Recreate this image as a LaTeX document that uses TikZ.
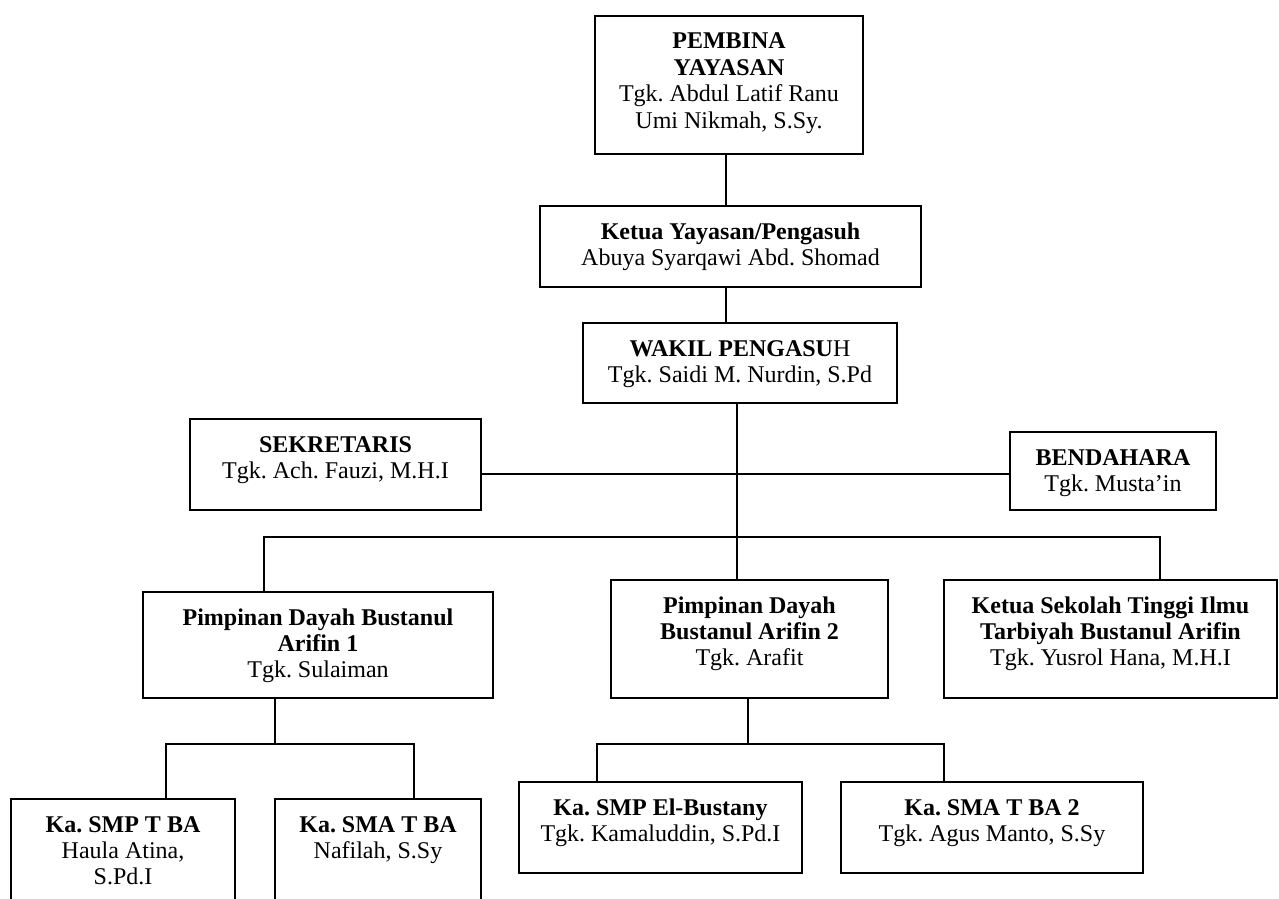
\documentclass[tikz,border=0pt]{standalone}
\usepackage{fontspec}
\setmainfont{Liberation Serif}
\frenchspacing
\newdimen\unitpx \unitpx=0.5pt
\newcommand{\orgtext}[3]{\parbox[c][#2\unitpx][t]{#1\unitpx}{\centering\rule{0pt}{33\unitpx}#3}}
\tikzset{
  unit/.style={draw, line width=1pt, inner sep=0pt, anchor=north west},
  link/.style={line width=0.9pt}
}
\begin{document}
\begin{tikzpicture}[x=0.5pt,y=-0.5pt,font=\fontsize{12pt}{13.2pt}\selectfont]
\useasboundingbox (0,0) rectangle (1279,899);
\clip (0,0) rectangle (1279,899);
\node[unit] (pembina) at (594,15) {\orgtext{268}{138}{\textbf{PEMBINA}\\\textbf{YAYASAN}\\Tgk. Abdul Latif Ranu\\Umi Nikmah, S.Sy.}};
\node[unit] (ketua) at (539,205) {\orgtext{381}{81}{\textbf{Ketua Yayasan/Pengasuh}\\Abuya Syarqawi Abd. Shomad}};
\node[unit] (wakil) at (582,322) {\orgtext{314}{80}{\textbf{WAKIL PENGASU}H\\Tgk. Saidi M. Nurdin, S.Pd}};
\node[unit] (sekretaris) at (189,418) {\orgtext{291}{91}{\textbf{SEKRETARIS}\\Tgk. Ach. Fauzi, M.H.I}};
\node[unit] (bendahara) at (1009,431) {\orgtext{206}{78}{\textbf{BENDAHARA}\\Tgk. Musta’in}};
\node[unit] (pimpinan1) at (142,591) {\orgtext{350}{106}{\textbf{Pimpinan Dayah Bustanul}\\\textbf{Arifin 1}\\Tgk. Sulaiman}};
\node[unit] (pimpinan2) at (610,579) {\orgtext{277}{118}{\textbf{Pimpinan Dayah}\\\textbf{Bustanul Arifin 2}\\Tgk. Arafit}};
\node[unit] (ketuast) at (943,579) {\orgtext{333}{118}{\textbf{Ketua Sekolah Tinggi Ilmu}\\\textbf{Tarbiyah Bustanul Arifin}\\Tgk. Yusrol Hana, M.H.I}};
\node[unit] (smp1) at (10,798) {\orgtext{224}{140}{\textbf{Ka. SMP T BA}\\Haula Atina,\\S.Pd.I}};
\node[unit] (sma1) at (274,798) {\orgtext{206}{140}{\textbf{Ka. SMA T BA}\\Nafilah, S.Sy}};
\node[unit] (smp2) at (518,781) {\orgtext{283}{91}{\textbf{Ka. SMP El-Bustany}\\Tgk. Kamaluddin, S.Pd.I}};
\node[unit] (sma2) at (840,781) {\orgtext{302}{91}{\textbf{Ka. SMA T BA 2}\\Tgk. Agus Manto, S.Sy}};
\coordinate (poros) at (726,0);
\coordinate (staf) at (737,474);
\coordinate (cabang1) at (264,537);
\coordinate (cabang3) at (1160,537);
\coordinate (turun1) at (275,744);
\coordinate (smpkiri) at (166,744);
\coordinate (smakiri) at (414,744);
\coordinate (turun2) at (748,744);
\coordinate (smpkanan) at (597,744);
\coordinate (smakanan) at (944,744);
\draw[link] (poros |- pembina.south) -- (poros |- ketua.north);
\draw[link] (poros |- ketua.south) -- (poros |- wakil.north);
\draw[link] (staf |- wakil.south) -- (staf |- pimpinan2.north);
\draw[link] (sekretaris.east |- staf) -- (bendahara.west |- staf);
\draw[link] (cabang1 |- pimpinan1.north) -- (cabang1) -- (cabang3) -- (cabang3 |- ketuast.north);
\draw[link] (turun1 |- pimpinan1.south) -- (turun1);
\draw[link] (smpkiri |- smp1.north) -- (smpkiri) -- (smakiri) -- (smakiri |- sma1.north);
\draw[link] (turun2 |- pimpinan2.south) -- (turun2);
\draw[link] (smpkanan |- smp2.north) -- (smpkanan) -- (smakanan) -- (smakanan |- sma2.north);
\end{tikzpicture}
\end{document}
